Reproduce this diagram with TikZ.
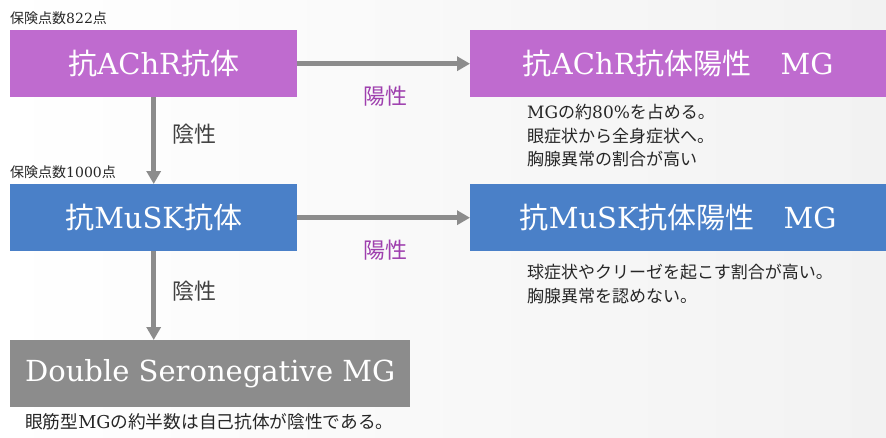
\documentclass[tikz,border=0pt]{standalone}
\usepackage{fontspec}
\setmainfont{DejaVu Serif}
\newfontfamily\cjk{Noto Sans CJK JP}
\usetikzlibrary{arrows.meta}
\definecolor{mgpurple}{HTML}{BF6BCF}
\definecolor{mgblue}{HTML}{4A80C8}
\definecolor{mggray}{HTML}{8C8C8C}
\definecolor{poslabel}{HTML}{9E3FAE}
\definecolor{neglabel}{HTML}{404040}
\definecolor{bgright}{HTML}{F2F2F2}
\definecolor{desctext}{HTML}{262626}
\begin{document}
\begin{tikzpicture}[x=1pt,y=-1pt,
  box/.style={anchor=north west, inner sep=0pt, text=white, font=\fontsize{29}{34}\selectfont, minimum height=67pt},
  flow/.style={draw=mggray, line width=4.5pt, -{Triangle[length=13pt,width=14pt]}},
  poslab/.style={text=poslabel, inner sep=0pt, font=\fontsize{22}{26}\selectfont\cjk},
  neglab/.style={text=neglabel, inner sep=0pt, font=\fontsize{22}{26}\selectfont\cjk},
  pts/.style={anchor=west, inner sep=0pt, text=desctext, font=\fontsize{14}{16}\selectfont},
  desc/.style={anchor=north west, inner sep=0pt, align=left, text=desctext, font=\fontsize{17}{23.5}\selectfont}
]
\shade[left color=white, right color=bgright] (0,0) rectangle (886,437);
\useasboundingbox (0,0) rectangle (886,437);

\node[box, fill=mgpurple, minimum width=287pt] (achr) at (10,30) {{\cjk 抗}AChR{\cjk 抗体}};
\node[box, fill=mgpurple, minimum width=416pt] (achrpos) at (470,30) {{\cjk 抗}AChR{\cjk 抗体陽性　}MG};
\node[box, fill=mgblue, minimum width=287pt] (musk) at (10,184) {{\cjk 抗}MuSK{\cjk 抗体}};
\node[box, fill=mgblue, minimum width=416pt] (muskpos) at (470,184) {{\cjk 抗}MuSK{\cjk 抗体陽性　}MG};
\node[box, fill=mggray, minimum width=400pt] (dsn) at (10,340) {Double Seronegative MG};

\draw[flow] (achr.east) -- (achrpos.west);
\draw[flow] (musk.east) -- (muskpos.west);
\draw[flow] (achr.south) -- (musk.north);
\draw[flow] (musk.south) -- (musk.south |- dsn.north);

\node[poslab] (p1) at (385,96) {陽性};
\node[poslab] (p2) at (385,250) {陽性};
\node[neglab] (n1) at (194,134) {陰性};
\node[neglab] (n2) at (194,291) {陰性};

\node[pts] (pts1) at (10,18) {{\cjk 保険点数}822{\cjk 点}};
\node[pts] (pts2) at (10,172) {{\cjk 保険点数}1000{\cjk 点}};

\node[desc] (d1) at (527,104) {MG{\cjk の約}80\%{\cjk を占める。}\\{\cjk 眼症状から全身症状へ。}\\{\cjk 胸腺異常の割合が高い}};
\node[desc] (d2) at (527,264) {{\cjk 球症状やクリーゼを起こす割合が高い。}\\{\cjk 胸腺異常を認めない。}};
\node[desc, anchor=west, font=\fontsize{17.7}{22}\selectfont] (d3) at (25,422) {{\cjk 眼筋型}MG{\cjk の約半数は自己抗体が陰性である。}};
\end{tikzpicture}
\end{document}
